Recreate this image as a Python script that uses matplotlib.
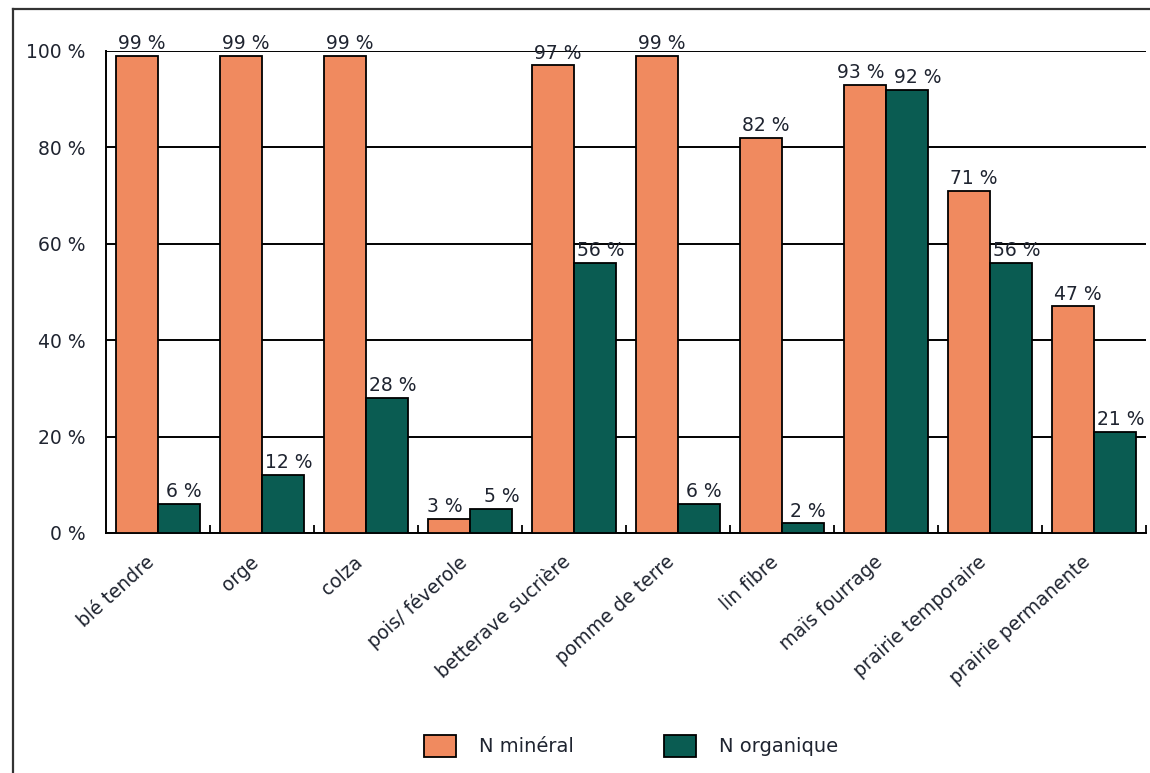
import matplotlib
matplotlib.use("Agg")
import matplotlib.pyplot as plt
from matplotlib.patches import Patch
from matplotlib.lines import Line2D
import numpy as np

categories = ["blé tendre", "orge", "colza", "pois/ féverole", "betterave sucrière",
              "pomme de terre", "lin fibre", "maïs fourrage", "prairie temporaire",
              "prairie permanente"]
n_mineral = [99, 99, 99, 3, 97, 99, 82, 93, 71, 47]
n_organique = [6, 12, 28, 5, 56, 6, 2, 92, 56, 21]
series_names = ["N minéral", "N organique"]
yticks = [0, 20, 40, 60, 80, 100]

c_orange = "#F08A5F"
c_green = "#0A5C52"
txt = "#1f2430"

plt.rcParams['font.family'] = ['DejaVu Sans']

fig = plt.figure(figsize=(11.5, 7.73), dpi=100)
ax = fig.add_axes([106/1150, 1 - 533/773, (1146 - 106)/1150, (533 - 51)/773])

x = np.arange(len(categories))
w = 0.405
b1 = ax.bar(x - w/2, n_mineral, w, color=c_orange, edgecolor="black", linewidth=1.3, zorder=3)
b2 = ax.bar(x + w/2, n_organique, w, color=c_green, edgecolor="black", linewidth=1.3, zorder=3)

fs = 13.5
for r1, r2, v1, v2 in zip(b1, b2, n_mineral, n_organique):
    d1, d2 = 0.05, 0.05
    if abs(v1 - v2) < 8:  # keep neighbouring labels apart
        d1, d2 = -0.04, 0.1
    for rect, v, d in ((r1, v1, d1), (r2, v2, d2)):
        ax.annotate(f"{v} %", (rect.get_x() + rect.get_width()/2 + d, v), xytext=(0, 2),
                    textcoords="offset points", ha="center", va="bottom", fontsize=fs,
                    color=txt, annotation_clip=False)

ax.set_xlim(-0.5, len(categories) - 0.5)
ax.set_ylim(0, 100)
ax.set_yticks(yticks)
ax.set_yticklabels([f"{t} %" for t in yticks], fontsize=fs, color=txt)
ax.tick_params(axis="y", length=0, pad=15)
ax.yaxis.grid(True, color="black", linewidth=1.4, zorder=0)
ax.set_axisbelow(True)

ax.set_xticks(x + 0.5, minor=False)
ax.set_xticklabels([])
ax.tick_params(axis="x", direction="in", length=6, width=1.3, color="black")
for xi, lab in zip(x, categories):
    ax.annotate(lab, (xi, 0), xytext=(-9, -14), textcoords="offset points",
                rotation=42, ha="right", va="top", rotation_mode="anchor",
                fontsize=fs, color=txt, annotation_clip=False)

for s in ["top", "right"]:
    ax.spines[s].set_visible(False)
for s in ["left", "bottom"]:
    ax.spines[s].set_linewidth(1.4)
    ax.spines[s].set_color("black")

# outer frame lines
fig.add_artist(Line2D([13/1150, 13/1150], [0, 1 - 9/773], transform=fig.transFigure,
                      color="#333333", linewidth=1.6))
fig.add_artist(Line2D([13/1150, 1], [1 - 9/773, 1 - 9/773], transform=fig.transFigure,
                      color="#333333", linewidth=1.6))

handles = [Patch(facecolor=c_orange, edgecolor="black", linewidth=1.3),
           Patch(facecolor=c_green, edgecolor="black", linewidth=1.3)]
leg = fig.legend(handles, series_names, loc="center", bbox_to_anchor=(631/1150, 1 - 746/773),
                 ncol=2, frameon=False, fontsize=14, handlelength=1.65, handleheight=1.4,
                 handletextpad=1.2, columnspacing=4.6)
for t in leg.get_texts():
    t.set_color(txt)

fig.savefig("out.png", dpi=100)
